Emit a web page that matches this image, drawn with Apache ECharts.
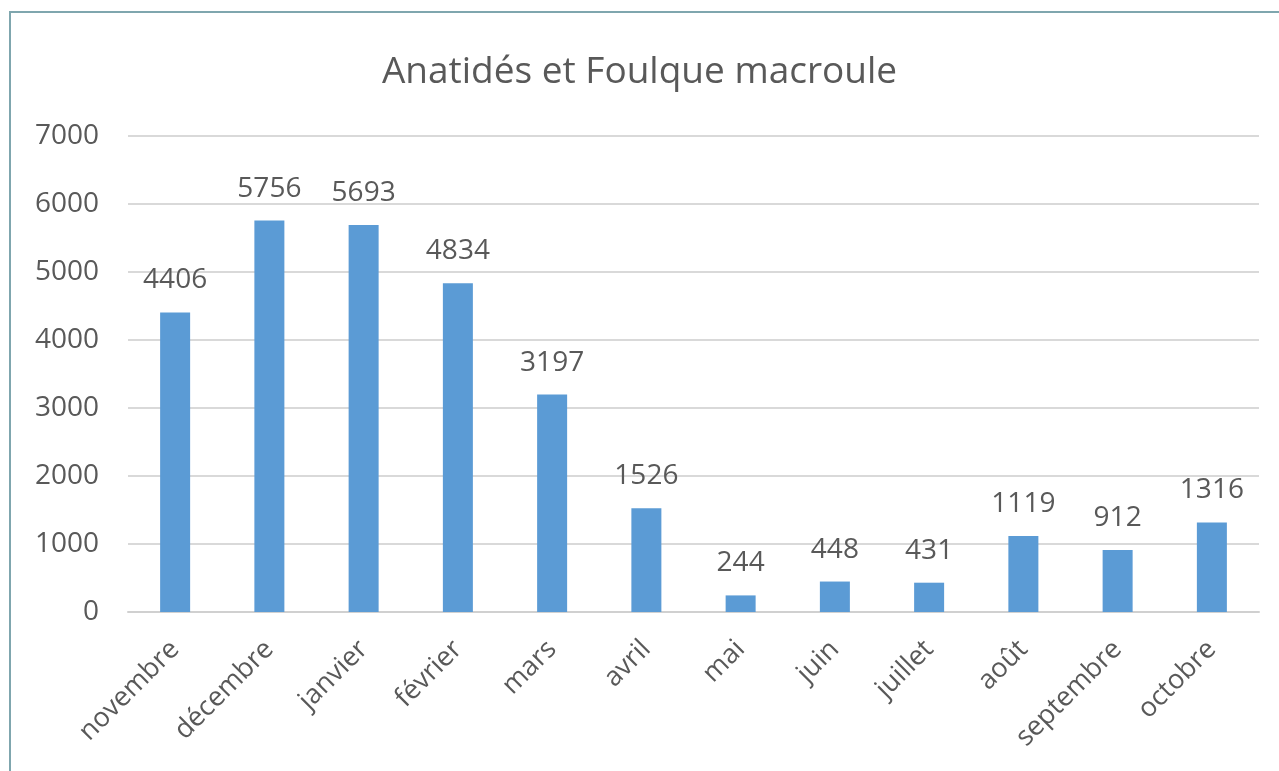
<!DOCTYPE html>
<html>
<head>
<meta charset="utf-8">
<script src="https://cdn.jsdelivr.net/npm/echarts@6/dist/echarts.min.js"></script>
<style>
  html, body { margin: 0; padding: 0; background: #ffffff; }
  #chart { width: 1279px; height: 771px; }
</style>
</head>
<body>
<div id="chart"></div>
<script>
// Monthly counts of ducks, geese, swans and coots
const months = ['novembre', 'décembre', 'janvier', 'février', 'mars', 'avril', 'mai', 'juin', 'juillet', 'août', 'septembre', 'octobre'];
const counts = [4406, 5756, 5693, 4834, 3197, 1526, 244, 448, 431, 1119, 912, 1316];
const yTicks = { min: 0, max: 7000, interval: 1000 };

const fontFamily = '"Open Sans", "Noto Sans", sans-serif';
const textColor = '#595959';

const chart = echarts.init(document.getElementById('chart'), null, { renderer: 'canvas' });
chart.setOption({
  backgroundColor: '#ffffff',
  animation: false,
  title: {
    text: 'Anatidés et Foulque macroule',
    left: 'center',
    top: 49,
    textStyle: { fontFamily, fontSize: 37, fontWeight: 'normal', color: textColor }
  },
  graphic: [{
    type: 'rect',
    shape: { x: 10, y: 12, width: 1290, height: 780 },
    style: { fill: 'none', stroke: '#7fa6ae', lineWidth: 2 },
    silent: true
  }],
  grid: { left: 128, right: 20, top: 136, bottom: 159 },
  xAxis: {
    type: 'category',
    data: months,
    axisTick: { show: false },
    axisLine: { lineStyle: { color: '#d0d0d0', width: 2 } },
    axisLabel: { rotate: 45, color: textColor, fontFamily, fontSize: 27, margin: 33, interval: 0 }
  },
  yAxis: {
    type: 'value',
    min: yTicks.min,
    max: yTicks.max,
    interval: yTicks.interval,
    axisLine: { show: false },
    axisTick: { show: false },
    splitLine: { lineStyle: { color: '#d9d9d9', width: 2 } },
    axisLabel: {
      color: textColor, fontFamily, fontSize: 28, margin: 29,
      formatter: (v) => String(v)
    }
  },
  series: [{
    type: 'bar',
    data: counts,
    barWidth: 30,
    itemStyle: { color: '#5b9bd5' },
    label: {
      show: true,
      position: 'top',
      distance: 18,
      color: textColor,
      fontFamily,
      fontSize: 28
    }
  }]
});
</script>
</body>
</html>
